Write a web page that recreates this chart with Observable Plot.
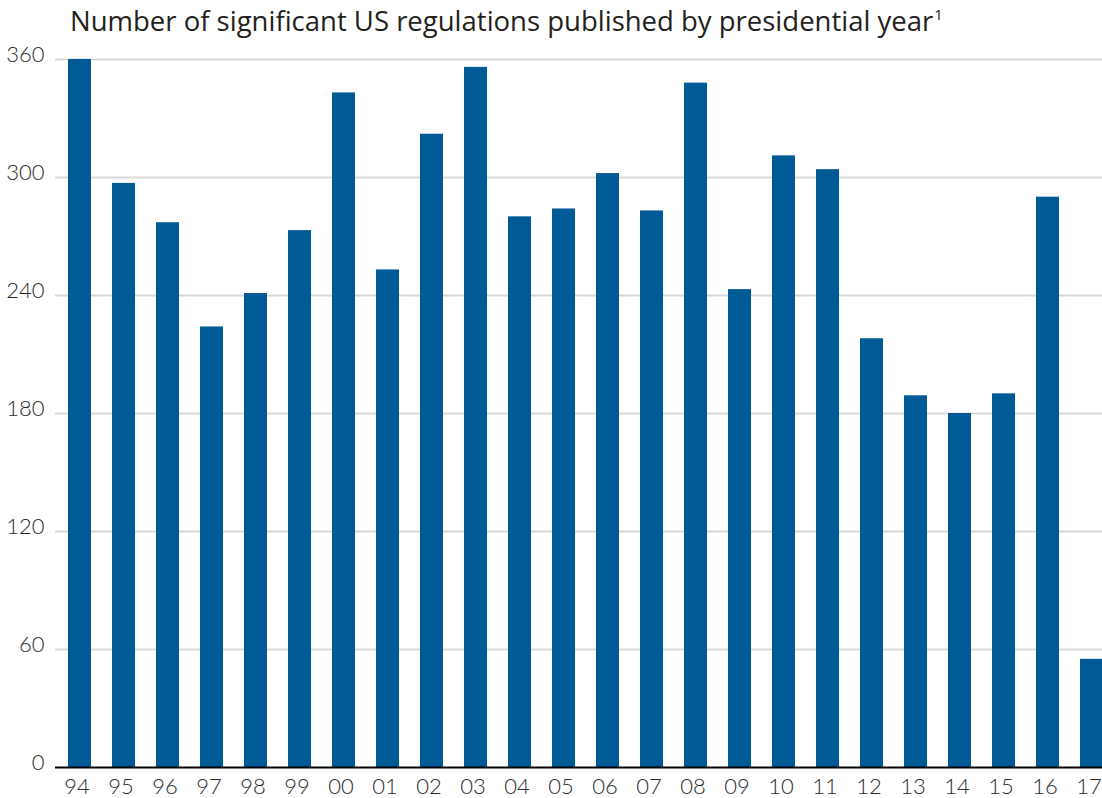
<!DOCTYPE html>
<html>
<head>
<meta charset="utf-8">
<script src="https://cdn.jsdelivr.net/npm/d3@7"></script>
<script src="https://cdn.jsdelivr.net/npm/@observablehq/plot@0.6"></script>
<style>
  html, body { margin: 0; padding: 0; background: #fff; }
  #chart { position: relative; width: 1102px; overflow: hidden; }
  .title {
    position: relative;
    height: 40px;
    font-family: "Open Sans", Lato, sans-serif;
    font-size: 27.5px;
    color: #231f20;
  }
  .title span { position: absolute; left: 70px; top: 2px; line-height: 37px; white-space: nowrap; }
  .title sup { font-size: 15px; vertical-align: 0; position: relative; top: -11px; margin-left: 1px; }
</style>
</head>
<body>
<div id="chart">
  <div class="title"><span>Number of significant US regulations published by presidential year<sup>1</sup></span></div>
</div>
<script>
// Presidential years (two-digit labels) and count of significant regulations
const years = ["94","95","96","97","98","99","00","01","02","03","04","05",
               "06","07","08","09","10","11","12","13","14","15","16","17"];
const regulations = [360, 297, 277, 224, 241, 273, 343, 253, 322, 356, 280, 284,
                     302, 283, 348, 243, 311, 304, 218, 189, 180, 190, 290, 55];
const yTicks = [0, 60, 120, 180, 240, 300, 360];

const data = years.map((year, i) => ({year, value: regulations[i]}));

const chart = Plot.plot({
  width: 1102,
  height: 758,
  marginTop: 19,
  marginBottom: 31,
  marginLeft: 55,
  marginRight: 0,
  style: {fontFamily: "Lato, 'Open Sans', sans-serif", color: "#2b2b2b", background: "#fff"},
  x: {domain: years, range: [55.4, 1116.2], paddingInner: 0.48, paddingOuter: 0.24},
  y: {domain: [0, 360]},
  marks: [
    Plot.ruleY(yTicks.filter(d => d > 0), {stroke: "#d9d9d9", strokeWidth: 2}),
    Plot.barY(data, {x: "year", y: "value", fill: "#005a96"}),
    Plot.ruleY([0], {stroke: "#000", strokeWidth: 2}),
    Plot.axisY(yTicks, {tickSize: 0, tickPadding: 11, dy: -5, fontSize: 22, fontWeight: 300, label: null}),
    Plot.axisX({tickSize: 0, tickPadding: 11, dx: -3, fontSize: 22, fontWeight: 300, label: null})
  ]
});

document.getElementById("chart").appendChild(chart);
</script>
</body>
</html>
